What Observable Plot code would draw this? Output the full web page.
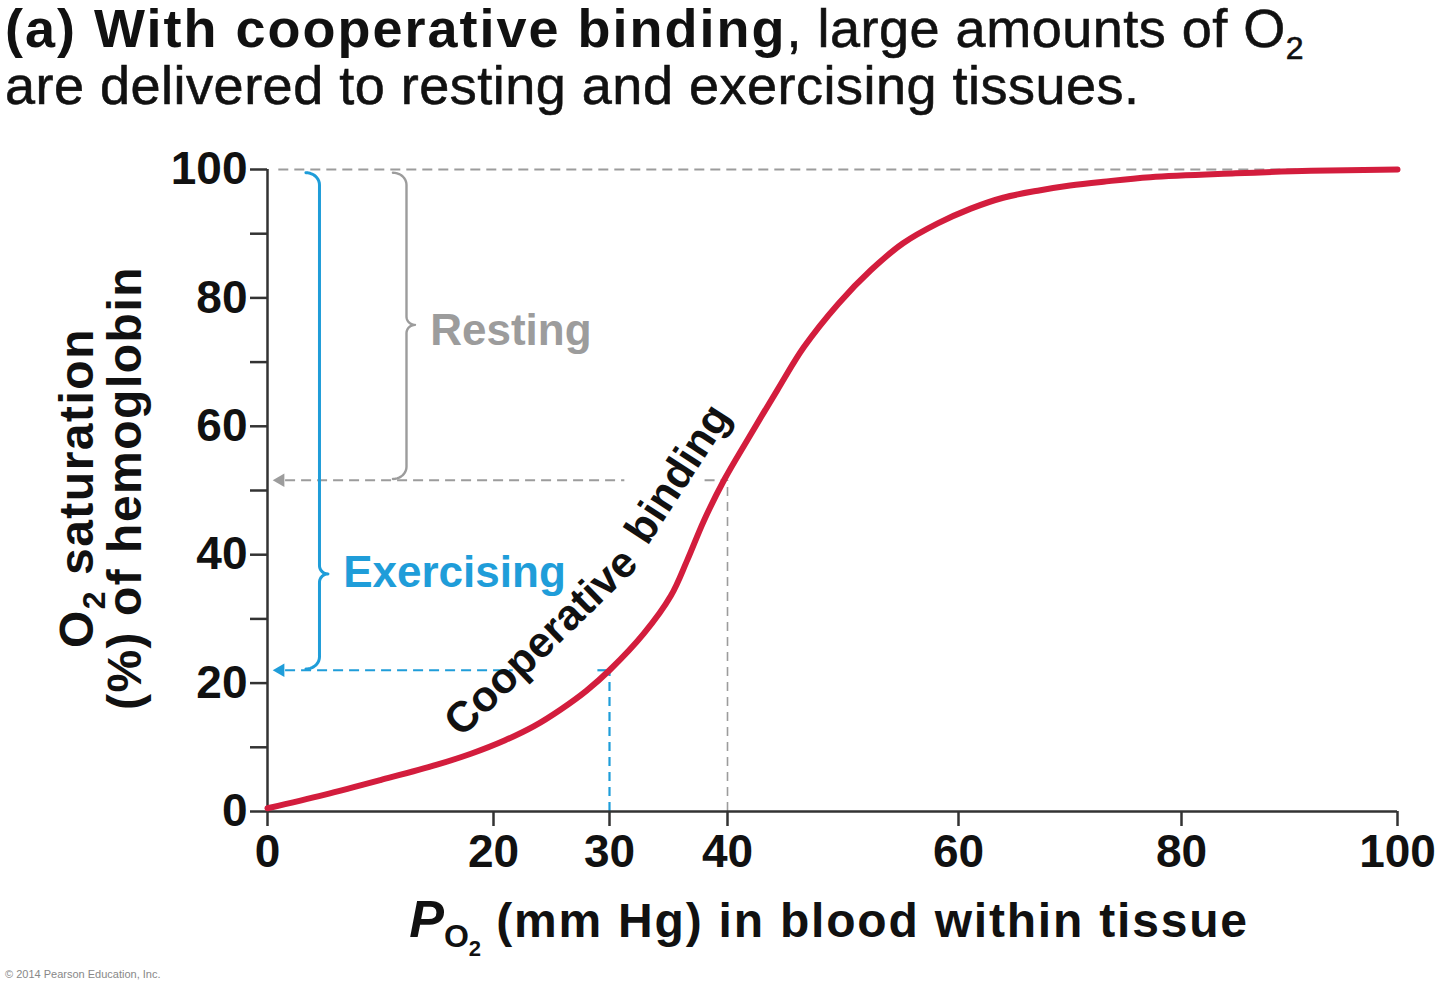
<!DOCTYPE html>
<html><head><meta charset="utf-8">
<script src="https://cdn.jsdelivr.net/npm/d3@7"></script>
<script src="https://cdn.jsdelivr.net/npm/@observablehq/plot@0.6"></script>
<style>
html,body{margin:0;padding:0;background:#fff;width:1440px;height:993px;overflow:hidden;}
body{font-family:"Liberation Sans",Arial,Helvetica,sans-serif;position:relative;}
#title{position:absolute;left:5px;top:0px;font-size:54px;line-height:57px;color:#111;white-space:nowrap;}
#title b{letter-spacing:2px;}
#title .reg{letter-spacing:0.5px;-webkit-text-stroke:0.6px #111;}
#title sub{font-size:32px;line-height:0;vertical-align:baseline;position:relative;top:12px;}
#chart{position:absolute;left:0;top:125px;}
#caption{position:absolute;left:5px;top:968px;font-size:11px;color:#888;}
</style>
</head><body>
<div id="title"><b>(a) With cooperative binding</b><span class="reg">, large amounts of O<sub>2</sub></span><br><span class="reg">are delivered to resting and exercising tissues.</span></div>
<div id="chart"></div>
<div id="caption">© 2014 Pearson Education, Inc.</div>
<script>
// ---- data ----
const po2 = [0,5,10,15,18,21,23.5,25.8,28,30,32.9,35.2,36.6,38.0,39.7,41.7,44.3,46.6,49.6,52.4,55.2,58.2,61.1,64.0,67.1,70.0,73.0,77.2,85,92,100];
const saturation = [0.5,2.6,4.9,7.3,9.0,11.1,13.3,15.9,18.8,22.0,27.7,33.6,39.2,45.3,51.6,57.8,65.6,72.3,79.1,84.3,88.5,91.6,93.9,95.6,96.7,97.5,98.1,98.8,99.4,99.8,100];

const xTicks = [0,20,30,40,60,80,100];
const yTicks = [0,10,20,30,40,50,60,70,80,90,100];
const yTickLabels = [0,20,40,60,80,100];

// conditions: tissue PO2 and resulting saturation
const conditions = ["Resting","Exercising"];
const tissuePO2 = [40, 30];
const tissueSat = [51.6, 22];
const arterialSat = 100;
const condColors = ["#9c9c9c", "#1f9dd9"];

// label placements (data space)
const condLabelX = [14.4, 6.7];
const condLabelY = [74.9, 37.1];
const braceX = [12.3, 4.6];
const braceTip = [75.8, 37.0];

const curveWords = ["Cooperative", "binding"];
const curveWordX = [24.1, 35.8];
const curveWordY = [26.4, 52.6];
const curveWordAngle = [-44, -57];

// dashed guide segments (x extents); gaps leave room for the curve label
const hGuides = [
  {y: arterialSat, x1: 1.0, x2: 92, c: 0},
  {y: tissueSat[0], x1: 1.6, x2: 31.3, c: 0},
  {y: tissueSat[0], x1: 38.1, x2: tissuePO2[0], c: 0},
  {y: tissueSat[1], x1: 1.6, x2: 21.7, c: 1},
  {y: tissueSat[1], x1: 29.0, x2: tissuePO2[1], c: 1}
];
const vGuides = conditions.map((c, i) => ({x: tissuePO2[i], y1: 0, y2: tissueSat[i], c: i}));

const curve = po2.map((p, i) => ({p, s: saturation[i]}));

// brace geometry in data units
function bracePoints(x, yTop, yBot, yTip, id) {
  const rx = 1.2, ry = 1.9, tx = 0.75, ty = 1.3, pts = [];
  const arc = (cx, cy, ax, ay, a0, a1) => { for (let k = 0; k <= 10; k++) { const t = a0 + (a1 - a0) * k / 10; pts.push({x: cx + ax * Math.cos(t), y: cy + ay * Math.sin(t), id}); } };
  arc(x - rx, yTop - ry, rx, ry, Math.PI / 2, 0);
  arc(x + tx, yTip + ty, tx, ty, Math.PI, 1.5 * Math.PI);
  arc(x + tx, yTip - ty, tx, ty, Math.PI / 2, Math.PI);
  arc(x - rx, yBot + ry, rx, ry, 0, -Math.PI / 2);
  return pts;
}
const braces = conditions.flatMap((c, i) => bracePoints(braceX[i], arterialSat - 0.5, tissueSat[i] + 0.2, braceTip[i], c));

const font = "'Liberation Sans', Arial, Helvetica, sans-serif";
const W = 1440, H = 840, mt = 44, mb = 154, ml = 267, mr = 43;
// the drawn axis is slightly non-uniform; piecewise range per labelled tick
const xRange = [267, 493, 609, 727, 958, 1181, 1397];

const plot = Plot.plot({
  width: W, height: H,
  marginLeft: ml, marginRight: mr, marginTop: mt, marginBottom: mb,
  x: {type: "linear", domain: xTicks, range: xRange},
  y: {domain: [0, 100]},
  style: {fontFamily: font, background: "white", color: "#111", overflow: "visible"},
  marks: [
    Plot.axisY({ticks: yTicks, tickSize: 17, tickPadding: 3, tickFormat: d => yTickLabels.includes(d) ? String(d) : "", fontSize: 46, fontWeight: "bold", strokeWidth: 2.5, stroke: "#333", label: null}),
    Plot.axisX({ticks: xTicks, tickSize: 15, tickPadding: 8, fontSize: 46, fontWeight: "bold", strokeWidth: 2.5, stroke: "#333", label: null}),
    Plot.ruleY(hGuides, {y: "y", x1: "x1", x2: "x2", stroke: d => condColors[d.c], strokeWidth: d => d.c ? 2.2 : 2, strokeDasharray: "10,6"}),
    Plot.ruleX(vGuides, {x: "x", y1: "y1", y2: "y2", stroke: d => condColors[d.c], strokeWidth: d => d.c ? 2.2 : 1.6, strokeDasharray: "9,6"}),
    Plot.dot(conditions, {x: () => 1.15, y: (d, i) => tissueSat[i], symbol: "triangle", r: 5, fill: (d, i) => condColors[i], stroke: "none", rotate: -90}),
    Plot.line(braces, {x: "x", y: "y", z: "id", stroke: d => d.id === "Resting" ? condColors[0] : condColors[1], strokeWidth: d => d.id === "Resting" ? 2.4 : 3, curve: "linear"}),
    Plot.text(conditions, {x: (d, i) => condLabelX[i], y: (d, i) => condLabelY[i], text: d => d, fill: (d, i) => condColors[i], fontSize: 44, fontWeight: "bold", textAnchor: "start"}),
    Plot.text(curveWords, {x: (d, i) => curveWordX[i], y: (d, i) => curveWordY[i], text: d => d, rotate: (d, i) => curveWordAngle[i], fill: "#111", fontSize: 43, fontWeight: "bold"}),
    Plot.ruleY([0], {stroke: "#333", strokeWidth: 2.5}),
    Plot.ruleX([0], {stroke: "#333", strokeWidth: 2.5}),
    Plot.line(curve, {x: "p", y: "s", stroke: "#d31d3d", strokeWidth: 6, curve: "catmull-rom", strokeLinecap: "round"})
  ]
});
document.getElementById("chart").appendChild(plot);

// axis titles with subscripts
const svg = d3.select(plot);
const cx = (xRange[0] + xRange[xRange.length - 1]) / 2, cy = mt + (H - mt - mb) / 2;
const xl = svg.append("text").attr("x", cx - 3).attr("y", H - mb + 126).attr("text-anchor", "middle")
  .attr("fill", "#111").style("font-family", font).style("font-weight", "bold").style("font-size", "48px");
xl.append("tspan").style("font-style", "italic").style("font-size", "52px").text("P");
xl.append("tspan").style("font-size", "32px").attr("dy", 10).text("O");
xl.append("tspan").style("font-size", "22px").attr("dy", 9).text("2");
xl.append("tspan").attr("dy", -19).style("letter-spacing", "1.8px").text(" (mm Hg) in blood within tissue");

const yl = svg.append("g").attr("transform", `translate(93,${cy - 2}) rotate(-90)`)
  .style("font-family", font).style("font-weight", "bold").style("font-size", "48px").attr("fill", "#111");
const l1 = yl.append("text").attr("text-anchor", "middle").style("letter-spacing", "1.5px");
l1.append("tspan").text("O");
l1.append("tspan").style("font-size", "32px").attr("dy", 12).text("2");
l1.append("tspan").attr("dy", -12).text(" saturation");
yl.append("text").attr("text-anchor", "middle").attr("y", 48).style("letter-spacing", "1.5px").text("(%) of hemoglobin");
</script>
</body></html>
